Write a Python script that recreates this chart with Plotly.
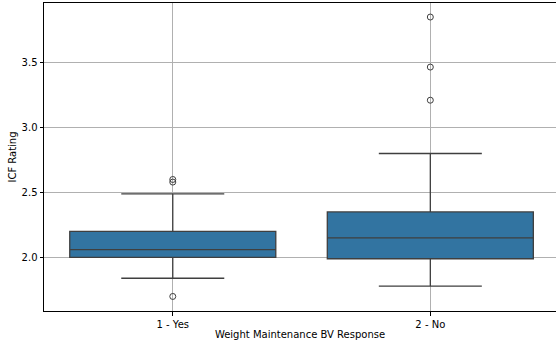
import plotly.graph_objects as go

categories = ["1 - Yes", "2 - No"]
q1 = [2.00, 1.99]
median = [2.06, 2.15]
q3 = [2.20, 2.35]
lower_fence = [1.84, 1.78]
upper_fence = [2.49, 2.80]
outliers = [[2.60, 2.58, 1.70], [3.85, 3.465, 3.21]]

box_color = "#3274a1"
line_color = "#3f3f3f"

fig = go.Figure()
for i, cat in enumerate(categories):
    fig.add_trace(go.Box(
        x=[i], q1=[q1[i]], median=[median[i]], q3=[q3[i]],
        lowerfence=[lower_fence[i]], upperfence=[upper_fence[i]],
        width=0.8, whiskerwidth=0.5,
        fillcolor=box_color, line=dict(color=line_color, width=1.3),
        boxpoints=False, showlegend=False, name=cat,
    ))
    fig.add_trace(go.Scatter(
        x=[i] * len(outliers[i]), y=outliers[i], mode="markers",
        marker=dict(symbol="circle-open", size=6, color=line_color, line=dict(width=1)),
        showlegend=False,
    ))

axis_common = dict(
    showline=True, linecolor="black", linewidth=1,
    showgrid=True, gridcolor="#b0b0b0", gridwidth=0.8,
    ticks="outside", ticklen=3.5, tickcolor="black", tickwidth=0.8,
    zeroline=False, tickfont=dict(size=10, color="black"),
)

fig.update_layout(
    width=556, height=345,
    margin=dict(l=44, r=0, t=3, b=34),
    plot_bgcolor="white", paper_bgcolor="white",
    font=dict(family="DejaVu Sans", size=10, color="black"),
    xaxis=dict(
        range=[-0.5, 1.488], tickmode="array", tickvals=[0, 1], ticktext=categories,
        mirror=True,
        title=dict(text="Weight Maintenance BV Response", font=dict(size=10), standoff=2),
        **axis_common,
    ),
    yaxis=dict(
        range=[1.588, 3.958], tickmode="array", tickvals=[2.0, 2.5, 3.0, 3.5],
        tickformat=".1f", mirror=False,
        title=dict(text="ICF Rating", font=dict(size=10), standoff=3),
        **axis_common,
    ),
)

fig.write_html("out.html")
